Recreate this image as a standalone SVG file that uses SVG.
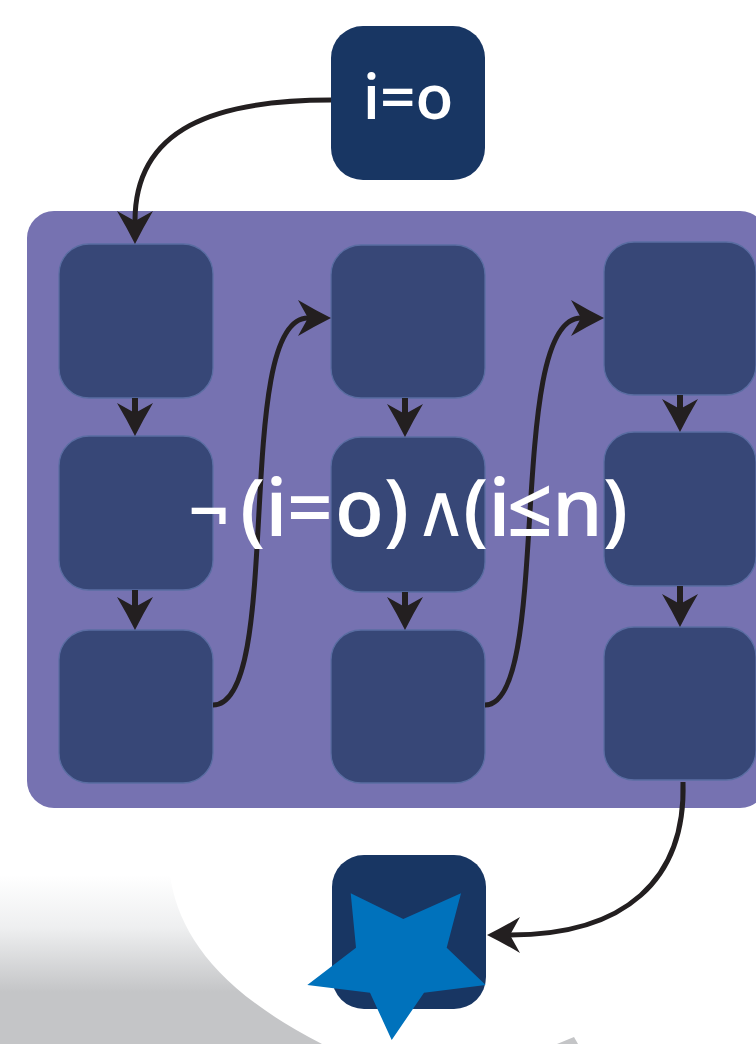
<svg xmlns="http://www.w3.org/2000/svg" width="756" height="1044" viewBox="0 0 756 1044">
  <defs>
    <linearGradient id="grayGrad" x1="0" y1="875" x2="0" y2="992" gradientUnits="userSpaceOnUse">
      <stop offset="0" stop-color="#ffffff"/>
      <stop offset="0.45" stop-color="#eeeff0"/>
      <stop offset="1" stop-color="#c4c5c7"/>
    </linearGradient>
    <marker id="arrow" markerUnits="userSpaceOnUse" markerWidth="44" markerHeight="44" viewBox="-2 -22 44 44" refX="10" refY="0" orient="auto">
      <path d="M33,0 Q17,-8 0,-18 L10,0 L0,18 Q17,8 33,0 Z" fill="#231f20"/>
    </marker>
    <style>
      .conn { fill: none; stroke: #231f20; stroke-width: 5; marker-end: url(#arrow); }
      .stem { fill: none; stroke: #231f20; stroke-width: 6; marker-end: url(#arrow); }
      .cell { fill: #374777; stroke: #5a6da2; stroke-width: 1.3; }
      .term { fill: #183663; }
      .label { fill: #ffffff; font-family: "Open Sans", "DejaVu Sans", sans-serif; font-weight: 600; }
      .sym { font-family: "DejaVu Sans", sans-serif; font-weight: 400; }
      .neg { font-family: "DejaVu Sans", sans-serif; font-weight: 700; }
    </style>
  </defs>

  <rect width="756" height="1044" fill="#ffffff"/>

  <g id="background">
    <path d="M0,875 L170,875 C178,932 216,990 322,1044 L0,1044 Z" fill="url(#grayGrad)"/>
    <path d="M557,1044 L574,1037 L578,1044 Z" fill="#c4c5c7"/>
  </g>

  <g id="container">
    <rect x="27" y="211" width="740" height="597" rx="27" ry="27" fill="#7672b1"/>
  </g>

  <g id="start">
    <rect class="term" x="331" y="26" width="154" height="154" rx="32" ry="32"/>
    <text class="label" x="408" y="119" font-size="62" text-anchor="middle">i=o</text>
  </g>

  <g id="c1r1"><rect class="cell" x="59" y="244" width="154" height="154" rx="30" ry="30"/></g>
  <g id="c1r2"><rect class="cell" x="59" y="436" width="154" height="154" rx="30" ry="30"/></g>
  <g id="c1r3"><rect class="cell" x="59" y="630" width="154" height="153" rx="30" ry="30"/></g>
  <g id="c2r1"><rect class="cell" x="331" y="245" width="154" height="153" rx="30" ry="30"/></g>
  <g id="c2r2"><rect class="cell" x="331" y="437" width="154" height="155" rx="30" ry="30"/></g>
  <g id="c2r3"><rect class="cell" x="331" y="630" width="154" height="153" rx="30" ry="30"/></g>
  <g id="c3r1"><rect class="cell" x="604" y="242" width="152" height="153" rx="30" ry="30"/></g>
  <g id="c3r2"><rect class="cell" x="604" y="432" width="152" height="154" rx="30" ry="30"/></g>
  <g id="c3r3"><rect class="cell" x="604" y="627" width="152" height="153" rx="30" ry="30"/></g>

  <g id="end">
    <rect class="term" x="332" y="855" width="154" height="154" rx="32" ry="32"/>
    <polygon points="350.7,893.3 403.3,919 461,893.3 446.7,947.7 485.7,985 424,992.7 391.7,1040 370,992.7 307.3,985 356,947.7" fill="#0072bc"/>
  </g>

  <g id="connectors">
    <path class="conn" d="M331,100 C215,100 135,128 135,221"/>
    <path class="stem" d="M135,398 L135,413"/>
    <path class="stem" d="M135,590 L135,607"/>
    <path class="conn" d="M213,705 C285,705 232,318 308,318"/>
    <path class="stem" d="M405,398 L405,414"/>
    <path class="stem" d="M405,592 L405,607"/>
    <path class="conn" d="M485,705 C553,705 505,318 581,318"/>
    <path class="stem" d="M680,395 L680,409"/>
    <path class="stem" d="M680,586 L680,604"/>
    <path class="conn" d="M683,782 C686,880 625,935 510,935"/>
  </g>

  <g id="condition">
    <text class="label" y="536" font-size="80"><tspan class="neg" x="186" y="532" font-size="54">¬</tspan><tspan x="240" y="536">(i</tspan><tspan x="287">=</tspan><tspan x="335">o)</tspan><tspan class="sym" x="414" font-size="74">∧</tspan><tspan x="463">(i</tspan><tspan x="507">≤</tspan><tspan x="552">n)</tspan></text>
  </g>
</svg>
